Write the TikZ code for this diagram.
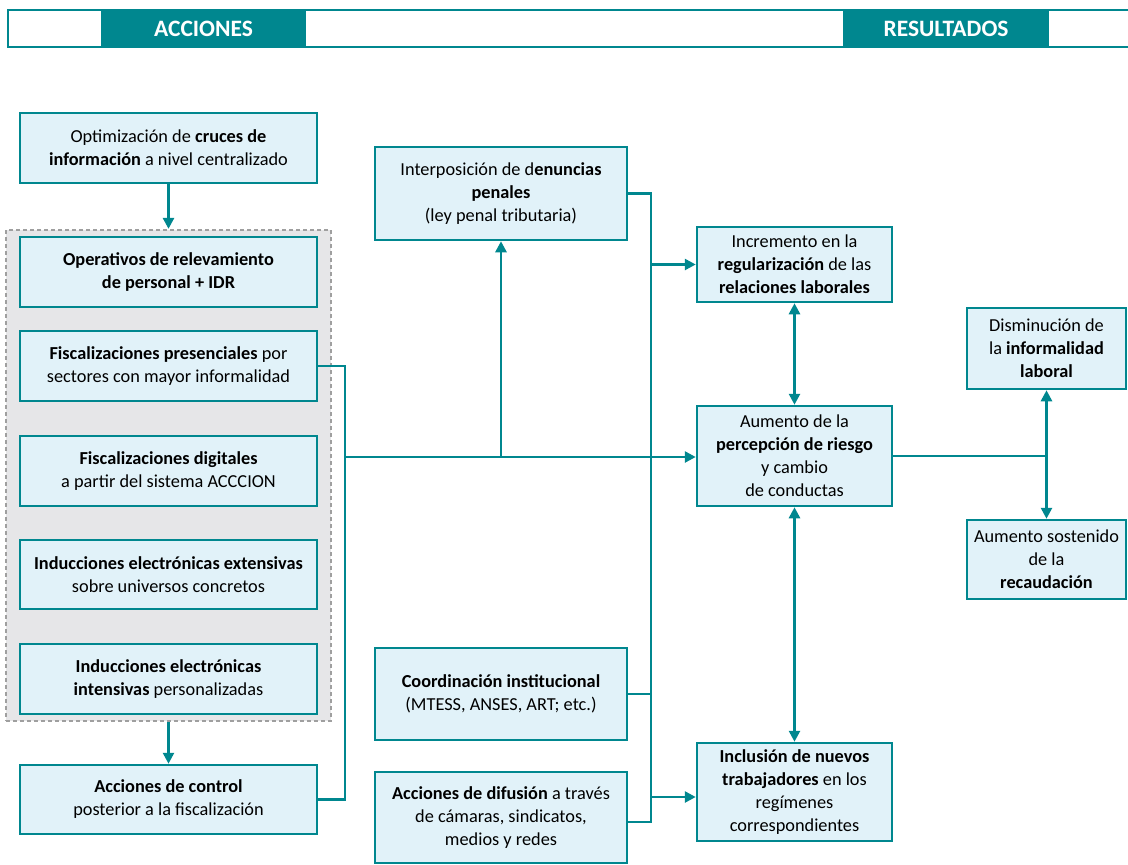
\documentclass[tikz,border=0pt]{standalone}
\usepackage{fontspec}
\setmainfont{Carlito}
\usetikzlibrary{arrows.meta,fit,backgrounds}
\definecolor{tealc}{RGB}{0,135,143}
\definecolor{boxfill}{RGB}{225,242,249}
\definecolor{grpfill}{RGB}{230,230,232}

\begin{document}
\begin{tikzpicture}[x=1pt,y=1pt,>={Triangle[length=11pt,width=11pt]},
  font=\fontsize{18.3}{23}\selectfont,
  b/.style={draw=tealc,line width=2.5pt,fill=boxfill,align=center,inner sep=0pt},
  lw/.style={minimum width=297pt},
  mw/.style={minimum width=252pt},
  rw/.style={minimum width=195pt},
  ew/.style={minimum width=159pt},
  ln/.style={draw=tealc,line width=2.6pt},
  h/.style={fill=tealc,text=white,font=\fontsize{23.5}{26}\selectfont\bfseries,minimum height=37pt,inner sep=0pt}]
\useasboundingbox (0,0) rectangle (1128,-865);
% cabecera
\draw[tealc,line width=2.5pt] (8,-10) rectangle (1140,-47);
\node[h,minimum width=205pt] (acc) at (203.5,-28.5) {ACCIONES};
\node[h,minimum width=206pt] (res) at (946,-28.5) {RESULTADOS};
% acciones
\node[b,lw,minimum height=70pt] (cru) at (168.5,-148) {Optimización de \textbf{cruces de}\\\textbf{información} a nivel centralizado};
\node[b,lw,minimum height=70pt] (ope) at (168.5,-272) {\textbf{Operativos de relevamiento}\\\textbf{de personal + IDR}};
\node[b,lw,minimum height=70pt] (fpr) at (168.5,-366) {\textbf{Fiscalizaciones presenciales} por\\sectores con mayor informalidad};
\node[b,lw,minimum height=70pt] (fdi) at (168.5,-471) {\textbf{Fiscalizaciones digitales}\\a partir del sistema ACCCION};
\node[b,lw,minimum height=69pt] (iex) at (168.5,-574.5) {\textbf{Inducciones electrónicas extensivas}\\sobre universos concretos};
\node[b,lw,minimum height=70pt] (iin) at (168.5,-679) {\textbf{Inducciones electrónicas}\\\textbf{intensivas} personalizadas};
\node[b,lw,minimum height=69pt] (ctl) at (168.5,-799.5) {\textbf{Acciones de control}\\posterior a la fiscalización};
\begin{scope}[on background layer]
\node[fit=(ope)(iin),draw=gray!75,fill=grpfill,line width=1.8pt,dash pattern=on 4pt off 3pt,inner xsep=12.5pt,inner ysep=6pt] (grp) {};
\end{scope}
\node[b,mw,minimum height=93pt] (den) at (501,-193.5) {Interposición de d\textbf{enuncias}\\\textbf{penales}\\(ley penal tributaria)};
\node[b,mw,minimum height=92pt] (coo) at (501,-694) {\textbf{Coordinación institucional}\\(MTESS, ANSES, ART; etc.)};
\node[b,mw,minimum height=91pt] (dif) at (501,-817.5) {\textbf{Acciones de difusión} a través\\de cámaras, sindicatos,\\medios y redes};
% resultados
\node[b,rw,minimum height=75pt] (reg) at (794.5,-264.5) {Incremento en la\\\textbf{regularización} de las\\\textbf{relaciones laborales}};
\node[b,rw,minimum height=100pt] (per) at (794.5,-456) {Aumento de la\\\textbf{percepción de riesgo}\\y cambio\\de conductas};
\node[b,rw,minimum height=98pt] (inc) at (794.5,-792) {\textbf{Inclusión de nuevos}\\\textbf{trabajadores} en los\\regímenes\\correspondientes};
\node[b,ew,minimum height=81pt] (inf) at (1046.5,-348.5) {Disminución de\\la \textbf{informalidad}\\\textbf{laboral}};
\node[b,ew,minimum height=79pt] (rec) at (1046.5,-559.5) {Aumento sostenido\\de la\\\textbf{recaudación}};
% conectores
\coordinate (jl) at (345,-457);
\coordinate (jr) at (651,-822);
\draw[ln,->] (cru) -- (grp.north);
\draw[ln,->] (grp.south -| ctl) -- (ctl);
\draw[ln] (fpr.east) -| (jl);
\draw[ln] (ctl.east) -| (jl);
\draw[ln,->] (jl) -- (jl -| per.west);
\draw[ln,->] (den.south |- jl) -- (den.south);
\draw[ln] (den.east) -| (jr) -- (jr -| dif.east);
\draw[ln] (coo.east) -- (coo.east -| jr);
\draw[ln,->] (jr |- reg.west) -- (reg.west);
\draw[ln,->] (jr |- 0,-797) -- (inc.west |- 0,-797);
\draw[ln,<->] (reg) -- (per);
\draw[ln,<->] (per) -- (inc);
\draw[ln] (per.east) -- (per.east -| inf.south);
\draw[ln,<->] (inf) -- (rec);
\end{tikzpicture}
\end{document}
